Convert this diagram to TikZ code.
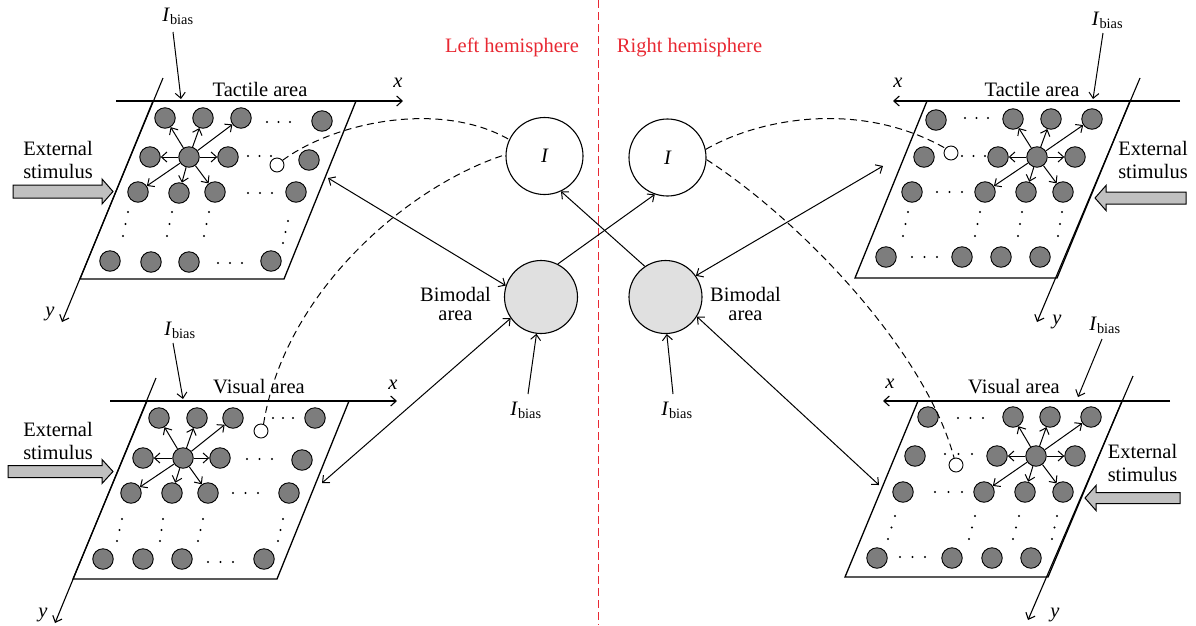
\documentclass[tikz,border=0pt]{standalone}
\usepackage{fontspec}
\setmainfont{Liberation Serif}
\usetikzlibrary{arrows.meta}
\definecolor{ngray}{RGB}{125,125,125}
\definecolor{bgray}{RGB}{224,224,224}
\definecolor{agray}{RGB}{192,192,192}
\definecolor{hred}{RGB}{232,40,50}
\newcommand{\neur}[3]{\node[neuron] (#1) at (#2,#3) {};}
\newcommand{\mydotsh}[3]{\foreach \k in {0,1,2} \fill ({#1+\k*(#2-#1)/2},#3) circle (1.2pt);}
\newcommand{\mydotsv}[4]{\foreach \k in {0,1,2} \fill ({#1+\k*(#3-#1)/2},{#2+\k*(#4-#2)/2}) circle (1.2pt);}
\newcommand{\ibias}{\textit{I}\textsubscript{bias}}
\begin{document}
\begin{tikzpicture}[x=1pt,y=-1pt,
  >={Straight Barb[length=5.5pt,width=10pt]},
  neuron/.style={circle,draw,fill=ngray,minimum size=20.5pt,inner sep=0pt,line width=0.9pt},
  probe/.style={circle,draw,fill=white,minimum size=14pt,inner sep=0pt,line width=0.9pt},
  inode/.style={circle,draw,fill=white,minimum size=77pt,inner sep=0pt,line width=1.1pt,font=\fontsize{20.5}{23}\selectfont\itshape},
  bnode/.style={circle,draw,fill=bgray,minimum size=73pt,inner sep=0pt,line width=1.1pt},
  lbl/.style={inner sep=0pt,font=\fontsize{20.5}{23}\selectfont},
  lbl2/.style={inner sep=0pt,align=center,font=\fontsize{20.5}{18.5}\selectfont},
  redlbl/.style={inner sep=0pt,text=hred,font=\fontsize{20.5}{23}\selectfont},
  conn/.style={line width=1pt},
  axis/.style={->,line width=1.1pt},
  panel/.style={line width=1.3pt},
  dashc/.style={line width=1pt,dash pattern=on 7pt off 4.5pt},
  block/.style={draw,fill=agray,line width=1pt}
]
\useasboundingbox (0,0) rectangle (1196,625);

% hemisphere separator
\draw[hred,line width=1pt,dash pattern=on 8pt off 4pt] (598,0) -- (598,625);
\node[redlbl,anchor=base] (lh) at (512,52) {Left hemisphere};
\node[redlbl,anchor=base] (rh) at (689.5,52) {Right hemisphere};

% ================= TOP-LEFT: tactile =================
\draw[panel] (153,101) -- (356,101) -- (284,279) -- (80,279) -- cycle;
\coordinate (tlxa) at (116,101); \coordinate (tlxb) at (403,101);
\coordinate (tlya) at (163,78); \coordinate (tlyb) at (62,322);
\draw[axis] (tlxa) -- (tlxb);
\draw[axis] (tlya) -- (tlyb);
\node[lbl,anchor=base] (tlx) at (398,87) {\textit{x}};
\node[lbl,anchor=base] (tly) at (50,316) {\textit{y}};
\node[lbl,anchor=base] (tlt) at (260,96) {Tactile area};
\node[lbl,anchor=base] (tlb) at (178,21) {\ibias};
\coordinate (tlba) at (173,32); \coordinate (tlbb) at (181,99);
\draw[->,conn] (tlba) -- (tlbb);
\node[lbl,align=center] (tle) at (58,159.7) {External\\stimulus};
\draw[block] (13,185) -- (102,185) -- (102,179) -- (113,191.5) -- (102,204) -- (102,198) -- (13,198) -- cycle;
\neur{tl11}{165}{118} \neur{tl12}{203}{118} \neur{tl13}{241}{118} \neur{tl14}{322}{121}
\neur{tl21}{150}{157} \neur{tl22}{189}{157} \neur{tl23}{228}{157} \neur{tl24}{309}{160}
\node[probe] (tlw) at (277,165) {};
\neur{tl31}{138}{192} \neur{tl32}{179}{193} \neur{tl33}{215}{192} \neur{tl34}{296}{192}
\neur{tl51}{110}{261} \neur{tl52}{151}{262} \neur{tl53}{189}{262} \neur{tl54}{271}{261}
\mydotsh{267}{290}{122} \mydotsh{248}{271}{156} \mydotsh{248}{272}{193} \mydotsh{218}{242}{263}
\mydotsv{128}{212}{123}{236} \mydotsv{172}{212}{167}{236} \mydotsv{209}{212}{204}{236} \mydotsv{288}{221}{283}{243}
\foreach \t in {tl11,tl12,tl13,tl21,tl23,tl31,tl32,tl33} \draw[->,conn] (tl22) -- (\t);

% ================= BOTTOM-LEFT: visual =================
\draw[panel] (147,401) -- (349,401) -- (277,579) -- (73,579) -- cycle;
\coordinate (blxa) at (110,401); \coordinate (blxb) at (397,401);
\coordinate (blya) at (156,378); \coordinate (blyb) at (55,623);
\draw[axis] (blxa) -- (blxb);
\draw[axis] (blya) -- (blyb);
\node[lbl,anchor=base] (blx) at (393,389) {\textit{x}};
\node[lbl,anchor=base] (bly) at (43,617) {\textit{y}};
\node[lbl,anchor=base] (blt) at (259,393) {Visual area};
\node[lbl,anchor=base] (blb) at (180,335) {\ibias};
\coordinate (blba) at (173,343); \coordinate (blbb) at (183,399);
\draw[->,conn] (blba) -- (blbb);
\node[lbl,align=center] (ble) at (58,440.7) {External\\stimulus};
\draw[block] (8,465.5) -- (102,465.5) -- (102,459.5) -- (113,471.5) -- (102,483.5) -- (102,477.5) -- (8,477.5) -- cycle;
\neur{bl11}{159}{418} \neur{bl12}{197}{418} \neur{bl13}{233}{418} \neur{bl14}{315}{418}
\node[probe] (blw) at (261,431) {};
\neur{bl21}{143}{458} \neur{bl22}{183}{458} \neur{bl23}{220}{458} \neur{bl24}{302}{460}
\neur{bl31}{131}{493} \neur{bl32}{172}{493} \neur{bl33}{208}{493} \neur{bl34}{289}{493}
\neur{bl51}{103}{559} \neur{bl52}{143}{559} \neur{bl53}{182}{559} \neur{bl54}{264}{559}
\mydotsh{273}{293}{418} \mydotsh{247}{272}{459} \mydotsh{233}{258}{493} \mydotsh{208}{233}{562}
\mydotsv{122}{519}{117}{541} \mydotsv{163}{519}{160}{541} \mydotsv{203}{519}{198}{541} \mydotsv{283}{519}{278}{541}
\foreach \t in {bl11,bl12,bl13,bl21,bl23,bl31,bl32,bl33} \draw[->,conn] (bl22) -- (\t);

% ================= TOP-RIGHT: tactile =================
\draw[panel] (927,101) -- (1130,101) -- (1057,278) -- (855,278) -- cycle;
\coordinate (trxa) at (1180,101); \coordinate (trxb) at (893,101);
\coordinate (trya) at (1140,78); \coordinate (tryb) at (1037,322);
\draw[axis] (trxa) -- (trxb);
\draw[axis] (trya) -- (tryb);
\node[lbl,anchor=base] (trx) at (898,87) {\textit{x}};
\node[lbl,anchor=base] (try) at (1057,324) {\textit{y}};
\node[lbl,anchor=base] (trt) at (1032,96) {Tactile area};
\node[lbl,anchor=base] (trb) at (1107.5,25) {\ibias};
\coordinate (trba) at (1103,33); \coordinate (trbb) at (1093,99);
\draw[->,conn] (trba) -- (trbb);
\node[lbl,align=center] (tre) at (1153,159.7) {External\\stimulus};
\draw[block] (1186,192) -- (1106,192) -- (1106,185.5) -- (1095,198) -- (1106,210.5) -- (1106,204) -- (1186,204) -- cycle;
\neur{tr11}{936}{120} \neur{tr12}{1013}{119} \neur{tr13}{1051}{119} \neur{tr14}{1092}{119}
\neur{tr21}{924}{157} \neur{tr22}{998}{157} \neur{tr23}{1037}{157} \neur{tr24}{1075}{157}
\node[probe] (trw) at (951,153) {};
\neur{tr31}{912}{192} \neur{tr32}{985}{192} \neur{tr33}{1026}{192} \neur{tr34}{1063}{192}
\neur{tr51}{886}{257} \neur{tr52}{962}{257} \neur{tr53}{1001}{257} \neur{tr54}{1040}{257}
\mydotsh{965}{988}{118} \mydotsh{962}{985}{156} \mydotsh{937}{962}{192} \mydotsh{912}{937}{257}
\mydotsv{908}{212}{903}{236} \mydotsv{980}{212}{975}{236} \mydotsv{1022}{212}{1018}{236} \mydotsv{1062}{212}{1058}{236}
\foreach \t in {tr12,tr13,tr14,tr22,tr24,tr32,tr33,tr34} \draw[->,conn] (tr23) -- (\t);

% ================= BOTTOM-RIGHT: visual =================
\draw[panel] (918,401) -- (1122,401) -- (1048,577) -- (845,577) -- cycle;
\coordinate (brxa) at (1170,401); \coordinate (brxb) at (883,401);
\coordinate (brya) at (1133,376); \coordinate (bryb) at (1028,620);
\draw[axis] (brxa) -- (brxb);
\draw[axis] (brya) -- (bryb);
\node[lbl,anchor=base] (brx) at (890,388) {\textit{x}};
\node[lbl,anchor=base] (bry) at (1055,617) {\textit{y}};
\node[lbl,anchor=base] (brt) at (1014,393) {Visual area};
\node[lbl,anchor=base] (brb) at (1105,330) {\ibias};
\coordinate (brba) at (1102,339); \coordinate (brbb) at (1078,397);
\draw[->,conn] (brba) -- (brbb);
\node[lbl,align=center] (bre) at (1142.5,462.7) {External\\stimulus};
\draw[block] (1180,492.5) -- (1096,492.5) -- (1096,485.5) -- (1085,498) -- (1096,510.5) -- (1096,503.5) -- (1180,503.5) -- cycle;
\neur{br11}{928}{417} \neur{br12}{1013}{417} \neur{br13}{1050}{417} \neur{br14}{1091}{417}
\neur{br21}{915}{456} \neur{br22}{997}{456} \neur{br23}{1036}{456} \neur{br24}{1075}{456}
\node[probe] (brw) at (956,465) {};
\neur{br31}{903}{492} \neur{br32}{984}{492} \neur{br33}{1025}{492} \neur{br34}{1063}{492}
\neur{br51}{877}{558} \neur{br52}{952}{558} \neur{br53}{992}{558} \neur{br54}{1031}{558}
\mydotsh{958}{983}{418} \mydotsh{945}{972}{454} \mydotsh{935}{962}{492} \mydotsh{900}{925}{557}
\mydotsv{895}{516}{888}{539} \mydotsv{975}{516}{969}{539} \mydotsv{1019}{516}{1013}{539} \mydotsv{1057}{516}{1052}{539}
\foreach \t in {br12,br13,br14,br22,br24,br32,br33,br34} \draw[->,conn] (br23) -- (\t);

% ================= CENTRAL NODES =================
\node[inode] (I1) at (544.5,156) {I};
\node[inode] (I2) at (667.5,157.5) {I};
\node[bnode] (B1) at (541,297) {};
\node[bnode] (B2) at (665.5,297) {};
\node[lbl2] (B1l) at (455.5,304.1) {Bimodal\\area};
\node[lbl2] (B2l) at (745.5,304.1) {Bimodal\\area};
\node[lbl,anchor=base] (B1b) at (526,415) {\ibias};
\node[lbl,anchor=base] (B2b) at (677,415) {\ibias};
\coordinate (B1ba) at (528,394); \coordinate (B2ba) at (673,394);
\draw[->,conn] (B1ba) -- (B1.263);
\draw[->,conn] (B2ba) -- (B2.272);

% connectors between panels and bimodal areas
\coordinate (tlc) at (328,178);
\coordinate (blc) at (322,483);
\coordinate (trc) at (883,166);
\coordinate (brc) at (879,485);
\draw[<->,conn] (tlc) -- (B1.162);
\draw[<->,conn] (blc) -- (B1.215);
\draw[<->,conn] (trc) -- (B2.35);
\draw[<->,conn] (brc) -- (B2.-32);
\draw[->,conn] (B1.63) -- (I2.251);
\draw[->,conn] (B2.124) -- (I1.-65);

% dashed feedback curves
\draw[dashc] (tlw.40) .. controls (335,122) and (440,100) .. (I1.155);
\draw[dashc] (blw.70) .. controls (285,290) and (410,185) .. (I1.178);
\draw[dashc] (I2.12) .. controls (760,118) and (860,100) .. (trw.140);
\draw[dashc] (I2.-3) .. controls (800,220) and (925,350) .. (brw.105);
\end{tikzpicture}
\end{document}
